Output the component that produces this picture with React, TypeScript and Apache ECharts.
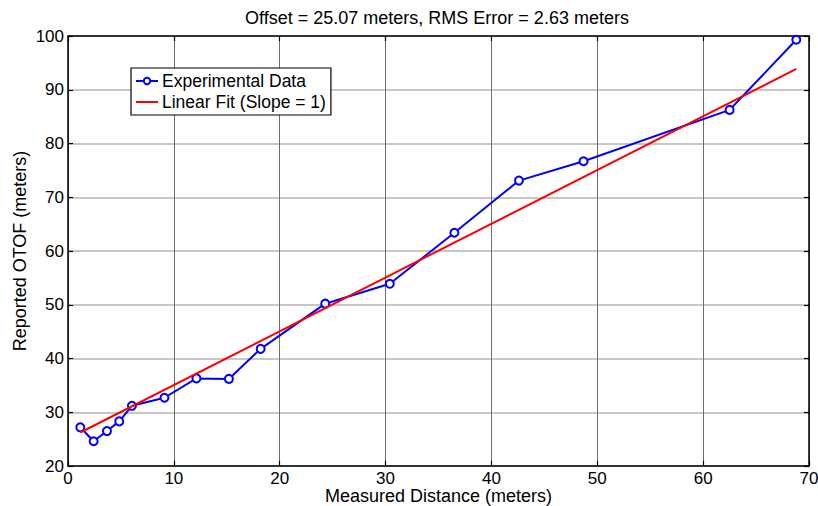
import React, { useEffect, useRef } from "react";
import * as echarts from "echarts";

const measuredDistance = [1.16, 2.42, 3.68, 4.84, 6.04, 9.11, 12.13, 15.2, 18.2, 24.3, 30.4, 36.5, 42.6, 48.7, 62.5, 68.8];
const reportedOtof = [27.2, 24.6, 26.5, 28.3, 31.2, 32.7, 36.3, 36.2, 41.8, 50.2, 53.9, 63.4, 73.1, 76.7, 86.25, 99.3];
const fitX = [1.16, 68.8];
const fitY = [26.23, 93.87];
const xTicks = { min: 0, max: 70, interval: 10 };
const yTicks = { min: 20, max: 100, interval: 10 };
const titleText = "Offset = 25.07 meters, RMS Error = 2.63 meters";
const xName = "Measured Distance (meters)";
const yName = "Reported OTOF (meters)";
const seriesNames = ["Experimental Data", "Linear Fit (Slope = 1)"];

const FONT = "Liberation Sans, Arial, Helvetica, sans-serif";

export default function App() {
  const ref = useRef<HTMLDivElement>(null);
  useEffect(() => {
    if (!ref.current) return;
    const chart = echarts.init(ref.current, null, { renderer: "svg" });
    const gridL = 68, gridR = 9, gridT = 36, gridB = 40;
    const baseAxis = {
      type: "value" as const,
      axisLine: { show: true, onZero: false, lineStyle: { color: "#000", width: 1.5 } },
      axisTick: { show: true, inside: true, length: 5, lineStyle: { color: "#000", width: 1.2 } },
    };
    chart.setOption({
      animation: false,
      backgroundColor: "#fff",
      textStyle: { fontFamily: FONT },
      graphic: [
        {
          type: "text",
          x: 437,
          y: 17.5,
          style: {
            text: titleText,
            fontFamily: FONT,
            fontSize: 18,
            fill: "#000",
            textAlign: "center",
            textVerticalAlign: "middle",
          },
        },
      ],
      grid: {
        left: gridL,
        right: gridR,
        top: gridT,
        bottom: gridB,
        containLabel: false,
        outerBoundsMode: "none",
      },
      legend: {
        show: true,
        data: [seriesNames[0], { name: seriesNames[1], itemStyle: { opacity: 0 } }],
        orient: "vertical",
        left: 131,
        top: 68,
        padding: [4, 5, 4, 4],
        itemGap: 3,
        itemWidth: 22,
        itemHeight: 8,
        backgroundColor: "#fff",
        borderColor: "#000",
        borderWidth: 1.2,
        borderRadius: 0,
        textStyle: { fontFamily: FONT, fontSize: 17.5, color: "#000", padding: [0, 0, 0, -1] },
      },
      xAxis: [
        {
          ...baseAxis,
          position: "bottom",
          min: xTicks.min,
          max: xTicks.max,
          interval: xTicks.interval,
          name: xName,
          nameLocation: "middle",
          nameGap: 21,
          nameMoveOverlap: false,
          nameTextStyle: { fontFamily: FONT, fontSize: 18, lineHeight: 18, color: "#000" },
          axisLabel: { fontFamily: FONT, fontSize: 17, lineHeight: 15, color: "#000", margin: 4.5 },
          splitLine: { show: true, lineStyle: { color: "#6e6e6e", width: 1 } },
        },
        {
          ...baseAxis,
          position: "top",
          min: xTicks.min,
          max: xTicks.max,
          interval: xTicks.interval,
          axisLabel: { show: false },
          splitLine: { show: false },
        },
      ],
      yAxis: [
        {
          ...baseAxis,
          position: "left",
          min: yTicks.min,
          max: yTicks.max,
          interval: yTicks.interval,
          name: yName,
          nameLocation: "middle",
          nameGap: 39,
          nameMoveOverlap: false,
          nameRotate: 90,
          nameTextStyle: { fontFamily: FONT, fontSize: 18, color: "#000" },
          axisLabel: { fontFamily: FONT, fontSize: 17, color: "#000", margin: 4 },
          splitLine: { show: true, lineStyle: { color: "#b4b4b4", width: 1.5 } },
        },
        {
          ...baseAxis,
          position: "right",
          min: yTicks.min,
          max: yTicks.max,
          interval: yTicks.interval,
          axisLabel: { show: false },
          splitLine: { show: false },
        },
      ],
      series: [
        {
          name: seriesNames[0],
          type: "line",
          xAxisIndex: 0,
          yAxisIndex: 0,
          data: measuredDistance.map((x, i) => [x, reportedOtof[i]]),
          symbol: "emptyCircle",
          symbolSize: 8,
          showAllSymbol: true,
          lineStyle: { color: "#0000ff", width: 2 },
          itemStyle: { color: "#0000ff", borderColor: "#0000ff", borderWidth: 2 },
          z: 3,
        },
        {
          name: seriesNames[1],
          type: "line",
          xAxisIndex: 0,
          yAxisIndex: 0,
          data: fitX.map((x, i) => [x, fitY[i]]),
          symbol: "none",
          lineStyle: { color: "#ff0000", width: 2 },
          itemStyle: { color: "#ff0000" },
          z: 4,
        },
      ],
    });
    return () => chart.dispose();
  }, []);
  return <div ref={ref} style={{ width: 818, height: 506, position: "absolute", left: 0, top: 0 }} />;
}
